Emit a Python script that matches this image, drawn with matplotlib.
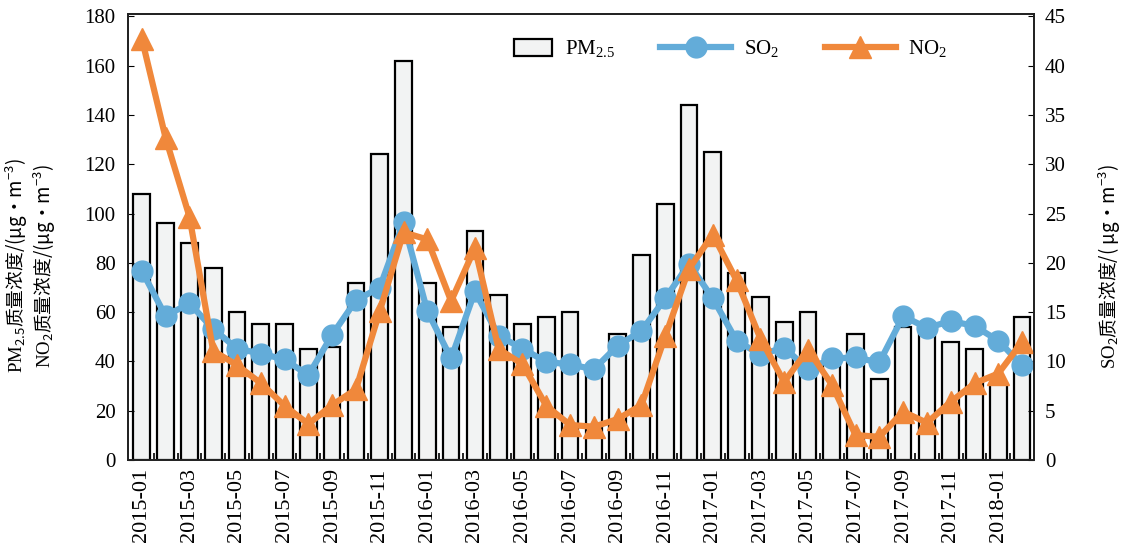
import matplotlib
matplotlib.use("Agg")
import matplotlib.pyplot as plt
import matplotlib.patches as mpatches
from matplotlib.legend_handler import HandlerPatch
import numpy as np

months = ["2015-01", "2015-02", "2015-03", "2015-04", "2015-05", "2015-06", "2015-07", "2015-08",
          "2015-09", "2015-10", "2015-11", "2015-12", "2016-01", "2016-02", "2016-03", "2016-04",
          "2016-05", "2016-06", "2016-07", "2016-08", "2016-09", "2016-10", "2016-11", "2016-12",
          "2017-01", "2017-02", "2017-03", "2017-04", "2017-05", "2017-06", "2017-07", "2017-08",
          "2017-09", "2017-10", "2017-11", "2017-12", "2018-01", "2018-02"]
pm25 = [108, 96, 88, 78, 60, 55, 55, 45, 46, 72, 124, 162, 72, 54, 93, 67, 55, 58, 60, 37,
        51, 83, 104, 144, 125, 76, 66, 56, 60, 41, 51, 33, 54, 52, 48, 45, 31, 58]
so2 = [19.2, 14.6, 15.9, 13.3, 11.3, 10.8, 10.2, 8.6, 12.7, 16.2, 17.5, 24.1, 15.1, 10.3, 17.1,
       12.6, 11.3, 9.95, 9.7, 9.2, 11.6, 13.1, 16.4, 19.9, 16.4, 12.1, 10.7, 11.4, 9.2, 10.3,
       10.4, 9.9, 14.6, 13.4, 14.1, 13.6, 12.1, 9.6]
no2 = [171, 130.7, 98.8, 44.3, 38.5, 31.2, 22, 14.6, 22.3, 28.7, 60.4, 92.4, 89.5, 64.5, 86,
       45, 38.9, 22, 14.2, 13.5, 16.6, 22.3, 50.2, 77.6, 91.5, 72.9, 49.3, 31.7, 44.8, 30.6,
       10.1, 9.4, 19.6, 15.1, 23.6, 31.1, 35.1, 47.9]

plt.rcParams['font.family'] = ['Liberation Serif', 'Noto Sans CJK SC', 'DejaVu Sans']
plt.rcParams['mathtext.fontset'] = 'custom'
plt.rcParams['mathtext.rm'] = 'Liberation Serif'
plt.rcParams['mathtext.it'] = 'Liberation Serif:italic'
plt.rcParams['mathtext.default'] = 'regular'

BLUE = '#63acd9'
ORANGE = '#f0883b'
BARFACE = '#f2f3f3'

fig = plt.figure(figsize=(11.26, 5.54), dpi=100)
ax = fig.add_axes([0.1137, 0.1697, 0.8046, 0.805])
x = np.arange(len(months))

ax.bar(x, pm25, width=0.70, facecolor=BARFACE, edgecolor='black', linewidth=1.6, zorder=1)
ax.set_xlim(-0.58, len(months) - 0.5)
ax.set_ylim(0, 181)
ax.set_yticks(np.arange(0, 181, 20))

ax2 = ax.twinx()
ax2.plot(x, so2, color=BLUE, lw=4.5, marker='o', markersize=15, label='SO$_2$')
ax2.set_ylim(0, 45.25)
ax2.set_yticks(np.arange(0, 46, 5))

ax3 = ax.twinx()
ax3.plot(x, no2, color=ORANGE, lw=4.5, marker='^', markersize=16, label='NO$_2$')
ax3.set_ylim(ax.get_ylim())
ax3.set_yticks([])
for a in (ax2, ax3):
    a.patch.set_visible(False)

ax.set_xticks(x[::2])
ax.set_xticklabels(months[::2], rotation=90, fontsize=16)
ax.set_xticks(x[:-1] + 0.5, minor=True)
ax.tick_params(axis='x', which='major', length=0, pad=6)
ax.tick_params(axis='x', which='minor', direction='in', length=5, width=1.2)
ax.tick_params(axis='y', direction='in', length=4, labelsize=15, pad=9)
ax2.tick_params(axis='y', direction='in', length=4, labelsize=15, pad=8)

for a in (ax, ax2, ax3):
    for s in a.spines.values():
        s.set_linewidth(1.1)
        s.set_color('#222222')

cjk = {'family': 'Noto Sans CJK SC', 'size': 13.5}
fig.text(0.015, 0.52, r'$\mathrm{PM}_{2.5}$质量浓度/(μg·m$^{-3}$)', rotation=90,
         ha='center', va='center', fontdict=cjk)
fig.text(0.0395, 0.52, r'$\mathrm{NO}_{2}$质量浓度/(μg·m$^{-3}$)', rotation=90,
         ha='center', va='center', fontdict=cjk)
fig.text(0.986, 0.52, r'$\mathrm{SO}_{2}$质量浓度/( μg·m$^{-3}$)', rotation=90,
         ha='center', va='center', fontdict=cjk)


def small_rect(legend, orig_handle, xdescent, ydescent, width, height, fontsize):
    w = width * 0.54
    return mpatches.Rectangle((width - w - xdescent, -ydescent - height * 0.1), w, height * 1.15)


bar_proxy = mpatches.Rectangle((0, 0), 1, 1, facecolor=BARFACE, edgecolor='black', linewidth=1.6)
h2, l2 = ax2.get_legend_handles_labels()
h3, l3 = ax3.get_legend_handles_labels()
handles = [bar_proxy] + h2 + h3
labels = ['PM$_{2.5}$'] + l2 + l3
leg = ax3.legend(handles, labels, loc='center', bbox_to_anchor=(0.647, 0.922), ncol=3,
                 frameon=False, fontsize=15, handlelength=3.4, handletextpad=0.6,
                 columnspacing=2.2,
                 handler_map={mpatches.Rectangle: HandlerPatch(patch_func=small_rect)})

fig.savefig('out.png', dpi=100)
